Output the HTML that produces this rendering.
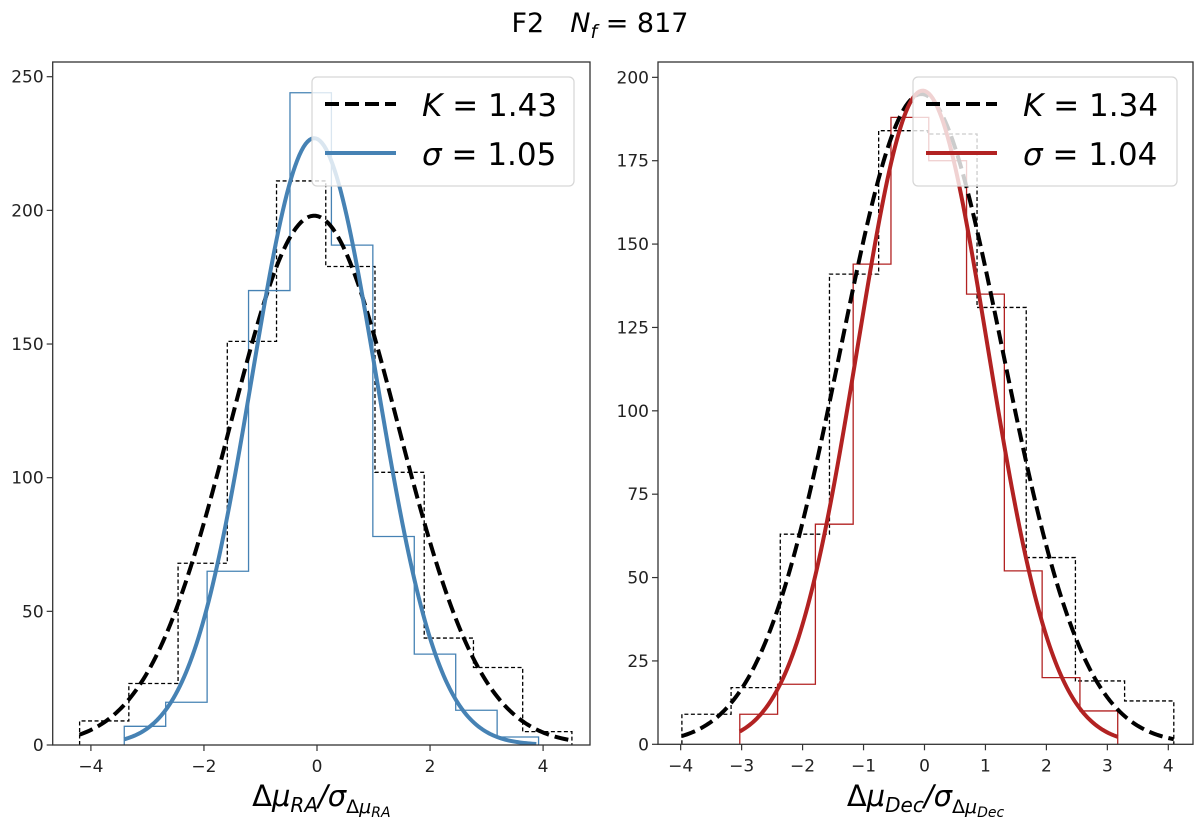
<!DOCTYPE html>
<html><head><meta charset="utf-8">
<style>
html,body{margin:0;padding:0;background:#fff;}
svg{display:block;font-family:"DejaVu Sans","Liberation Sans",sans-serif;}
</style></head>
<body>
<svg id="fig" width="1200" height="826" viewBox="0 0 1200 826" xmlns="http://www.w3.org/2000/svg">
<text x="600" y="32" text-anchor="middle" font-size="27" fill="#000">F2<tspan dx="26" font-style="italic">N</tspan><tspan font-style="italic" font-size="19" dy="6">f</tspan><tspan dy="-6"> = 817</tspan></text>
</svg>
<script>
// ---------- data: left panel (RA) ----------
const raBlackStart = -4.20, raBlackWidth = 0.871;
const raBlackCounts = [9, 23, 68, 151, 211, 179, 102, 40, 29, 5];
const raBlueStart = -3.41, raBlueWidth = 0.733;
const raBlueCounts = [7, 16, 65, 170, 244, 187, 78, 34, 13, 3];
const raKFit = [198, -0.05, 1.48];     // amplitude, mean, sigma
const raSigFit = [227, -0.05, 1.10];
const raKRange = [-4.20, 4.50];
const raSigRange = [-3.41, 3.88];
const raXTicks = [-4, -2, 0, 2, 4];
const raYTicks = [0, 50, 100, 150, 200, 250];
// ---------- data: right panel (Dec) ----------
const decBlackStart = -3.98, decBlackWidth = 0.807;
const decBlackCounts = [9, 17, 63, 141, 184, 183, 131, 56, 19, 13];
const decRedStart = -3.03, decRedWidth = 0.62;
const decRedCounts = [9, 18, 66, 144, 188, 175, 135, 52, 20, 10];
const decKFit = [195, -0.05, 1.33];
const decSigFit = [196, -0.03, 1.07];
const decKRange = [-3.98, 4.09];
const decSigRange = [-3.03, 3.17];
const decXTicks = [-4, -3, -2, -1, 0, 1, 2, 3, 4];
const decYTicks = [0, 25, 50, 75, 100, 125, 150, 175, 200];

const NS = "http://www.w3.org/2000/svg";
const svg = document.getElementById('fig');
function mk(tag, attrs, parent) {
  const e = document.createElementNS(NS, tag);
  for (const k in attrs) e.setAttribute(k, attrs[k]);
  (parent || svg).appendChild(e);
  return e;
}

function panel(cfg) {
  const g = mk('g', {});
  
  
  const X = v => cfg.px0 + (v - cfg.xmin) / (cfg.xmax - cfg.xmin) * (cfg.px1 - cfg.px0);
  const Y = v => cfg.py0 - (v - cfg.ymin) / (cfg.ymax - cfg.ymin) * (cfg.py0 - cfg.py1);
  const clipId = 'clip-' + cfg.name;
  const cp = mk('clipPath', {id: clipId}, g);
  mk('rect', {x: cfg.px0, y: cfg.py1, width: cfg.px1 - cfg.px0, height: cfg.py0 - cfg.py1}, cp);
  const plot = mk('g', {'clip-path': 'url(#' + clipId + ')'}, g);

  function step(start, width, counts, stroke, dash, nm) {
    let d = 'M' + X(start) + ' ' + Y(0);
    counts.forEach((c, i) => {
      const x0 = X(start + i * width), x1 = X(start + (i + 1) * width);
      d += ' L' + x0 + ' ' + Y(c) + ' L' + x1 + ' ' + Y(c);
    });
    d += ' L' + X(start + counts.length * width) + ' ' + Y(0);
    const p = mk('path', {d: d, fill: 'none', stroke: stroke, 'stroke-width': 1.3}, plot);
    if (dash) p.setAttribute('stroke-dasharray', dash);
    
    
  }
  function curve(fit, range, stroke, w, dash, nm) {
    let d = '';
    const n = 200;
    for (let i = 0; i <= n; i++) {
      const x = range[0] + (range[1] - range[0]) * i / n;
      const y = fit[0] * Math.exp(-Math.pow(x - fit[1], 2) / (2 * fit[2] * fit[2]));
      d += (i ? ' L' : 'M') + X(x).toFixed(2) + ' ' + Y(y).toFixed(2);
    }
    const p = mk('path', {d: d, fill: 'none', stroke: stroke, 'stroke-width': w}, plot);
    if (dash) p.setAttribute('stroke-dasharray', dash);
    
    
  }
  step(cfg.bStart, cfg.bWidth, cfg.bCounts, '#000', '4,2.5', 'hist-k-' + cfg.name);
  step(cfg.cStart, cfg.cWidth, cfg.cCounts, cfg.color, null, 'hist-sigma-' + cfg.name);
  curve(cfg.kFit, cfg.kRange, '#000', 4, '14,6', 'curve-k-' + cfg.name);
  curve(cfg.sFit, cfg.sRange, cfg.color, 4, null, 'curve-sigma-' + cfg.name);

  const fr = mk('rect', {x: cfg.px0, y: cfg.py1, width: cfg.px1 - cfg.px0, height: cfg.py0 - cfg.py1, fill: 'none', stroke: '#333', 'stroke-width': 1.3}, g);
  
  

  cfg.xTicks.forEach(t => {
    mk('line', {x1: X(t), x2: X(t), y1: cfg.py0, y2: cfg.py0 + 6, stroke: '#333', 'stroke-width': 1.2}, g);
    const tx = mk('text', {x: X(t), y: cfg.py0 + 27, 'text-anchor': 'middle', 'font-size': 17, fill: '#222'}, g);
    tx.textContent = t < 0 ? '\u2212' + Math.abs(t) : String(t);
    
    
  });
  cfg.yTicks.forEach(t => {
    mk('line', {x1: cfg.px0 - 6, x2: cfg.px0, y1: Y(t), y2: Y(t), stroke: '#333', 'stroke-width': 1.2}, g);
    const tx = mk('text', {x: cfg.px0 - 9, y: Y(t) + 6, 'text-anchor': 'end', 'font-size': 17, fill: '#222'}, g);
    tx.textContent = String(t);
    
    
  });

  const xt = mk('text', {x: (cfg.px0 + cfg.px1) / 2, y: 806, 'text-anchor': 'middle', 'font-size': 29, fill: '#000'}, g);
  xt.innerHTML = '\u0394<tspan font-style="italic">\u03bc</tspan><tspan font-style="italic" font-size="20" dy="6">' + cfg.sub + '</tspan><tspan dy="-6" font-style="italic">/\u03c3</tspan><tspan font-size="19" dy="7">\u0394</tspan><tspan font-style="italic" font-size="19">\u03bc</tspan><tspan font-style="italic" font-size="14" dy="4">' + cfg.sub + '</tspan>';
  
  

  const lg = mk('g', {}, g);
  
  
  mk('rect', {x: cfg.lx, y: cfg.ly, width: cfg.lw, height: 109, rx: 5, fill: 'rgba(255,255,255,0.8)', stroke: '#d6d6d6', 'stroke-width': 1.2}, lg);
  const r1 = cfg.ly + 27, r2 = cfg.ly + 76;
  const l1 = mk('line', {x1: cfg.lx + 13, x2: cfg.lx + 84, y1: r1, y2: r1, stroke: '#000', 'stroke-width': 4, 'stroke-dasharray': '14,6'}, lg);
  
  
  const t1 = mk('text', {x: cfg.lx + 110, y: r1 + 12, 'font-size': 31, fill: '#000'}, lg);
  t1.innerHTML = '<tspan font-style="italic">K</tspan> = ' + cfg.kLabel;
  
  
  const l2 = mk('line', {x1: cfg.lx + 13, x2: cfg.lx + 84, y1: r2, y2: r2, stroke: cfg.color, 'stroke-width': 4}, lg);
  
  
  const t2 = mk('text', {x: cfg.lx + 110, y: r2 + 12, 'font-size': 31, fill: '#000'}, lg);
  t2.innerHTML = '<tspan font-style="italic">\u03c3</tspan> = ' + cfg.sLabel;
  
  
}

panel({name: 'ra-panel', px0: 52.7, px1: 590, py0: 745, py1: 62,
  xmin: -4.676, xmax: 4.83, ymin: 0, ymax: 255.5,
  bStart: raBlackStart, bWidth: raBlackWidth, bCounts: raBlackCounts,
  cStart: raBlueStart, cWidth: raBlueWidth, cCounts: raBlueCounts,
  kFit: raKFit, sFit: raSigFit, kRange: raKRange, sRange: raSigRange,
  color: '#4682b4', xTicks: raXTicks, yTicks: raYTicks, sub: 'RA',
  lx: 312, ly: 77, lw: 262, kLabel: '1.43', sLabel: '1.05'});
panel({name: 'dec-panel', px0: 658, px1: 1193, py0: 744.3, py1: 62,
  xmin: -4.372, xmax: 4.405, ymin: 0, ymax: 204.6,
  bStart: decBlackStart, bWidth: decBlackWidth, bCounts: decBlackCounts,
  cStart: decRedStart, cWidth: decRedWidth, cCounts: decRedCounts,
  kFit: decKFit, sFit: decSigFit, kRange: decKRange, sRange: decSigRange,
  color: '#b22222', xTicks: decXTicks, yTicks: decYTicks, sub: 'Dec',
  lx: 913, ly: 77, lw: 264, kLabel: '1.34', sLabel: '1.04'});
</script>
</body></html>
